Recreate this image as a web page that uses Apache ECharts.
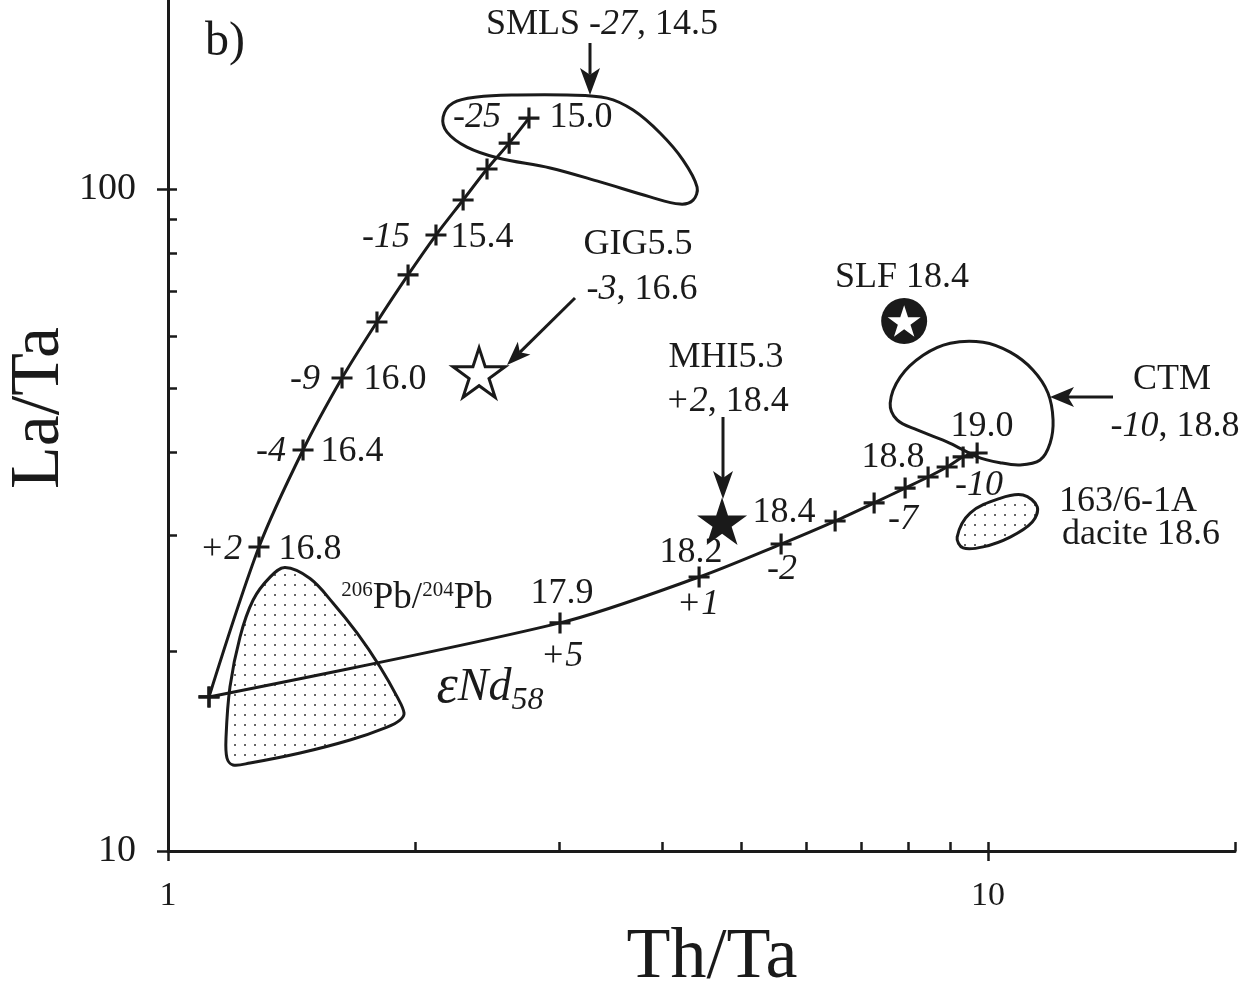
<!DOCTYPE html>
<html>
<head>
<meta charset="utf-8">
<script src="https://cdn.jsdelivr.net/npm/echarts@6/dist/echarts.min.js"></script>
<style>
  html, body { margin: 0; padding: 0; background: #fff; }
  #chart { width: 1249px; height: 994px; }
</style>
</head>
<body>
<div id="chart"></div>
<script>
// upper mixing curve (Pb labels) - one point per tick
const curveAX = [1.122, 1.291, 1.461, 1.630, 1.798, 1.962, 2.122, 2.290, 2.449, 2.606, 2.755];
const curveAY = [17.09, 28.79, 40.34, 51.82, 62.97, 74.17, 85.21, 96.25, 107.2, 117.3, 128.0];
// lower mixing curve (eNd labels)
const curveBX = [1.122, 3.006, 4.442, 5.592, 6.508, 7.261, 7.921, 8.449, 8.913, 9.322, 9.696];
const curveBY = [17.09, 22.11, 25.94, 29.09, 31.51, 33.56, 35.34, 36.73, 38.02, 39.38, 39.93];

// samples
const sampleNames = ["GIG5.5", "MHI5.3", "SLF"];
const sampleX = [2.395, 4.738, 7.90];
const sampleY = [52.8, 31.5, 63.2];

// field outlines [Th/Ta, La/Ta]
const smlsOutline = [[2.165, 128.5], [2.226, 134.9], [2.381, 137.7], [2.665, 138.7], [3.066, 138.7], [3.430, 137.2], [3.691, 131.6], [3.981, 121.5], [4.246, 110.6], [4.417, 100.7], [4.368, 96.2], [4.211, 94.9], [3.871, 97.3], [3.364, 102.5], [2.924, 107.6], [2.527, 111.4], [2.315, 115.7], [2.189, 121.9]];
const ctmOutline = [[7.596, 47.5], [7.812, 52.0], [8.331, 56.1], [8.990, 58.5], [9.860, 58.7], [10.64, 56.7], [11.34, 53.3], [11.83, 49.2], [12.00, 44.8], [11.90, 41.3], [11.57, 38.96], [10.94, 38.3], [10.34, 38.6], [9.696, 39.4], [8.990, 41.3], [8.193, 43.25], [7.745, 44.8]];
const daciteOutline = [[9.167, 29.8], [9.507, 32.4], [10.34, 34.1], [11.03, 34.5], [11.48, 33.1], [11.32, 31.4], [10.64, 29.8], [9.860, 28.8], [9.322, 28.7]];
const pbOutline = [[1.389, 26.8], [1.490, 25.8], [1.589, 23.7], [1.700, 21.35], [1.814, 18.97], [1.903, 17.09], [1.940, 16.16], [1.918, 15.77], [1.850, 15.39], [1.667, 14.71], [1.449, 14.06], [1.259, 13.58], [1.200, 13.49], [1.180, 13.82], [1.177, 14.87], [1.190, 17.69], [1.224, 21.05], [1.270, 23.94], [1.331, 25.9]];

// axis ticks
const xTicksIn = [2, 3, 4, 5, 6, 7, 8, 9, 10, 20];
const xTicksOut = [1, 10];
const xLabels = [1, 10];
const yTicksIn = [20, 30, 40, 50, 60, 70, 80, 90, 100];
const yTicksOut = [10, 100];
const yLabels = [10, 100];

const FONT = '"Liberation Serif", "DejaVu Serif", serif';
const INK = "#1a1a1a";
const FS = 36;

const plusPath = "path://M8.5,0h3v20h-3zM0,8.5h20v3h-20z";
const starPath = "path://M50,0L61.23,34.55L97.55,34.55L68.17,55.9L79.39,90.45L50,69.1L20.61,90.45L31.83,55.9L2.45,34.55L38.77,34.55Z";

// dotted fill
const dotCanvas = document.createElement("canvas");
dotCanvas.width = 10;
dotCanvas.height = 10;
const g = dotCanvas.getContext("2d");
g.fillStyle = "#333";
g.beginPath();
g.arc(5, 5, 1, 0, Math.PI * 2);
g.fill();

const outlines = [
  { pts: smlsOutline, dotted: false },
  { pts: ctmOutline, dotted: false },
  { pts: daciteOutline, dotted: true },
  { pts: pbOutline, dotted: true },
];

function txt(text, x, y, size, italic, extra) {
  const it = { fontSize: size, fontFamily: FONT, fontStyle: "italic", fill: INK };
  return Object.assign({
    type: "text",
    x: x,
    y: y,
    z: 20,
    style: {
      text: text,
      fontSize: size,
      fontFamily: FONT,
      fontStyle: italic ? "italic" : "normal",
      fill: INK,
      align: "center",
      verticalAlign: "middle",
      rich: { i: it },
    },
  }, extra || {});
}

function arrow(x1, y1, x2, y2, len, w) {
  const L = Math.hypot(x2 - x1, y2 - y1);
  const dx = (x2 - x1) / L, dy = (y2 - y1) / L;
  const nx = -dy, ny = dx;
  const bx = x2 - dx * len, by = y2 - dy * len;
  const notch = [x2 - dx * len * 0.75, y2 - dy * len * 0.75];
  return [
    { type: "line", z: 20, shape: { x1: x1, y1: y1, x2: notch[0], y2: notch[1] }, style: { stroke: INK, lineWidth: 3 } },
    {
      type: "polygon", z: 20,
      shape: { points: [[x2, y2], [bx + nx * w / 2, by + ny * w / 2], notch, [bx - nx * w / 2, by - ny * w / 2]] },
      style: { fill: INK },
    },
  ];
}

const rich206 = {
  s: { fontSize: 21, fontFamily: FONT, fill: INK, verticalAlign: "top", lineHeight: 36 },
  m: { fontSize: 37, fontFamily: FONT, fill: INK, lineHeight: 36 },
};
const richNd = {
  e: { fontSize: 54, fontFamily: FONT, fontStyle: "italic", fill: INK },
  n: { fontSize: 46, fontFamily: FONT, fontStyle: "italic", fill: INK },
  sub: { fontSize: 32, fontFamily: FONT, fontStyle: "italic", fill: INK, padding: [26, 0, 0, 0] },
};

const graphics = [
  txt("b)", 225, 42, 48),
  txt("SMLS {i|-27}, 14.5", 602, 25, FS),
  txt("-25", 477, 118, FS, true),
  txt("15.0", 581, 118, FS),
  txt("-15", 386, 238, FS, true),
  txt("15.4", 482, 238, FS),
  txt("-9", 305, 380, FS, true),
  txt("16.0", 395, 380, FS),
  txt("-4", 271, 452, FS, true),
  txt("16.4", 352, 452, FS),
  txt("+2", 221, 550, FS, true),
  txt("16.8", 310, 550, FS),
  txt("17.9", 562, 594, FS),
  txt("+5", 562, 657, FS, true),
  txt("18.2", 691, 553, FS),
  txt("+1", 698, 605, FS, true),
  txt("18.4", 784, 513, FS),
  txt("-2", 782, 570, FS, true),
  txt("-7", 903, 520, FS, true),
  txt("18.8", 893, 458, FS),
  txt("19.0", 982, 427, FS),
  txt("-10", 979, 486, FS, true),
  txt("163/6-1A", 1128, 502, FS),
  txt("dacite 18.6", 1141, 535, FS),
  txt("CTM", 1172, 380, FS),
  txt("{i|-10}, 18.8", 1175, 427, FS),
  txt("SLF 18.4", 902, 278, FS),
  txt("MHI5.3", 726, 358, FS),
  txt("{i|+2}, 18.4", 727, 402, FS),
  txt("GIG5.5", 638, 245, FS),
  txt("{i|-3}, 16.6", 642, 290, FS),
  {
    type: "text", x: 417, y: 598, z: 20,
    style: { text: "{s|206}{m|Pb/}{s|204}{m|Pb}", rich: rich206, align: "center", verticalAlign: "middle", fontSize: 37, fontFamily: FONT },
  },
  {
    type: "text", x: 490, y: 688, z: 20,
    style: { text: "{e|ε}{n|Nd}{sub|58}", rich: richNd, align: "center", verticalAlign: "middle", fontSize: 46, fontFamily: FONT },
  },
  txt("La/Ta", 40, 408, 70, false, { rotation: Math.PI / 2 }),
  txt("Th/Ta", 712, 958, 72),
].concat(
  arrow(590, 43, 590, 95, 27, 20),
  arrow(575, 298, 507, 365, 24, 18),
  arrow(723, 417, 723, 499, 28, 20),
  arrow(1113, 397, 1050, 397, 24, 20)
);

const axisLineStyle = { color: INK, width: 3 };

const option = {
  backgroundColor: "#fff",
  animation: false,
  grid: { left: 168, right: 14, top: 0, bottom: 143, outerBoundsMode: "none" },
  xAxis: [
    {
      type: "log", min: 1, max: 20, position: "bottom",
      axisLine: { show: true, lineStyle: axisLineStyle },
      axisTick: { show: true, inside: true, length: 9, customValues: xTicksIn, lineStyle: { color: INK, width: 2.5 } },
      axisLabel: { show: true, customValues: xLabels, margin: 28, fontSize: 34, fontFamily: FONT, color: INK },
      splitLine: { show: false },
      minorTick: { show: false },
    },
    {
      type: "log", min: 1, max: 20, position: "bottom",
      axisLine: { show: false },
      axisTick: { show: true, inside: false, length: 10, customValues: xTicksOut, lineStyle: { color: INK, width: 2.5 } },
      axisLabel: { show: false },
      splitLine: { show: false },
    },
  ],
  yAxis: [
    {
      type: "log", min: 10, max: 193, position: "left",
      axisLine: { show: true, lineStyle: axisLineStyle },
      axisTick: { show: true, inside: true, length: 9, customValues: yTicksIn, lineStyle: { color: INK, width: 2.5 } },
      axisLabel: { show: true, customValues: yLabels, margin: 32, fontSize: 38, fontFamily: FONT, color: INK },
      splitLine: { show: false },
    },
    {
      type: "log", min: 10, max: 193, position: "left",
      axisLine: { show: false },
      axisTick: { show: true, inside: false, length: 11, customValues: yTicksOut, lineStyle: { color: INK, width: 2.5 } },
      axisLabel: { show: false },
      splitLine: { show: false },
    },
  ],
  series: [
    {
      type: "custom",
      coordinateSystem: "cartesian2d",
      xAxisIndex: 0, yAxisIndex: 0,
      z: 1,
      data: outlines.map((o, i) => [o.pts[0][0], o.pts[0][1], i]),
      renderItem: function (params, api) {
        const o = outlines[api.value(2)];
        const pts = o.pts.map((p) => api.coord(p));
        return {
          type: "polygon",
          shape: { points: pts, smooth: 0.35 },
          style: {
            fill: o.dotted ? { image: dotCanvas, repeat: "repeat" } : "none",
            stroke: INK,
            lineWidth: 3,
          },
        };
      },
    },
    {
      name: "Pb",
      type: "line",
      xAxisIndex: 0, yAxisIndex: 0,
      z: 5,
      data: curveAX.map((x, i) => [x, curveAY[i]]),
      smooth: 0.3,
      showAllSymbol: true,
      symbol: plusPath,
      symbolSize: 21,
      itemStyle: { color: INK, borderWidth: 0 },
      lineStyle: { color: INK, width: 3 },
    },
    {
      name: "Nd",
      type: "line",
      xAxisIndex: 0, yAxisIndex: 0,
      z: 5,
      data: curveBX.map((x, i) => [x, curveBY[i]]),
      smooth: 0.3,
      showAllSymbol: true,
      symbol: plusPath,
      symbolSize: 21,
      itemStyle: { color: INK, borderWidth: 0 },
      lineStyle: { color: INK, width: 3 },
    },
    {
      name: sampleNames[0],
      type: "scatter",
      z: 6,
      data: [[sampleX[0], sampleY[0]]],
      symbol: starPath,
      symbolKeepAspect: true,
      symbolSize: 52,
      itemStyle: { color: "#fff", borderColor: INK, borderWidth: 3, opacity: 1 },
    },
    {
      name: sampleNames[1],
      type: "scatter",
      z: 6,
      data: [[sampleX[1], sampleY[1]]],
      symbol: starPath,
      symbolKeepAspect: true,
      symbolSize: 50,
      itemStyle: { color: INK, opacity: 1 },
    },
    {
      name: sampleNames[2],
      type: "scatter",
      z: 6,
      data: [[sampleX[2], sampleY[2]]],
      symbol: "circle",
      symbolSize: 46,
      itemStyle: { color: INK, opacity: 1 },
    },
    {
      name: sampleNames[2] + " star",
      type: "scatter",
      z: 7,
      data: [[sampleX[2], sampleY[2]]],
      symbol: starPath,
      symbolKeepAspect: true,
      symbolSize: 33,
      itemStyle: { color: "#fff", opacity: 1 },
    },
  ],
  graphic: graphics,
};

const myChart = echarts.init(document.getElementById("chart"));
myChart.setOption(option);
window.addEventListener("resize", () => {
  myChart.resize();
});
</script>
</body>
</html>
